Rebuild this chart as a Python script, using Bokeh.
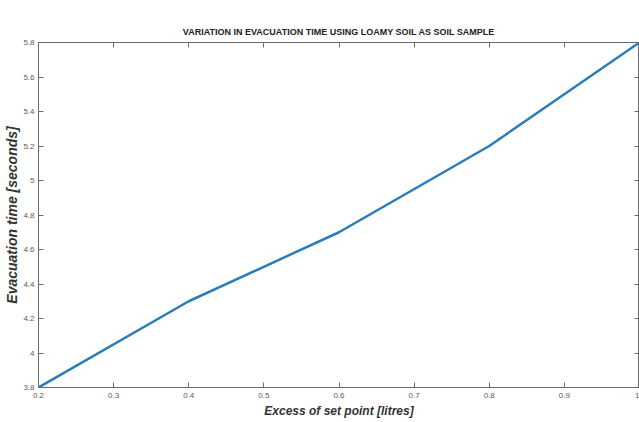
from bokeh.plotting import figure
from bokeh.models import LinearAxis, Range1d, FixedTicker
from bokeh.embed import file_html
from bokeh.resources import INLINE

excess_litres = [0.2, 0.4, 0.6, 0.8, 1.0]
evac_seconds = [3.8, 4.3, 4.7, 5.2, 5.8]
x_ticks = [0.2, 0.3, 0.4, 0.5, 0.6, 0.7, 0.8, 0.9, 1.0]
y_ticks = [3.8, 4.0, 4.2, 4.4, 4.6, 4.8, 5.0, 5.2, 5.4, 5.6, 5.8]
x_tick_labels = {0.2: "0.2", 0.3: "0.3", 0.4: "0.4", 0.5: "0.5", 0.6: "0.6",
                 0.7: "0.7", 0.8: "0.8", 0.9: "0.9", 1.0: "1"}
y_tick_labels = {3.8: "3.8", 4.0: "4", 4.2: "4.2", 4.4: "4.4", 4.6: "4.6", 4.8: "4.8",
                 5.0: "5", 5.2: "5.2", 5.4: "5.4", 5.6: "5.6", 5.8: "5.8"}

AX = "#6b6b6b"
FONT = "Liberation Sans"

p = figure(width=639, height=422, output_backend="svg", toolbar_location=None,
           x_range=Range1d(0.2, 1.0), y_range=Range1d(3.8, 5.8),
           x_axis_location=None, y_axis_location=None,
           min_border_left=38, min_border_right=0, min_border_top=42, min_border_bottom=35)
p.title.text = "VARIATION IN EVACUATION TIME USING LOAMY SOIL AS SOIL SAMPLE"
p.title.text_font = FONT
p.title.text_font_size = "9px"
p.title.text_font_style = "bold"
p.title.text_color = "#222222"
p.title.align = "center"
p.title.standoff = 11
p.xgrid.visible = False
p.ygrid.visible = False
p.outline_line_color = AX
p.background_fill_color = "white"
p.border_fill_color = "white"

def style(ax):
    ax.axis_line_color = AX
    ax.major_tick_line_color = AX
    ax.major_tick_in = 5
    ax.major_tick_out = 0
    ax.minor_tick_line_color = None
    ax.major_label_text_font = FONT
    ax.major_label_text_font_size = "8px"
    ax.major_label_text_color = "#5a5a5a"

xb = LinearAxis(ticker=FixedTicker(ticks=x_ticks), major_label_overrides=x_tick_labels)
style(xb)
xb.major_label_standoff = 5
xb.axis_label = "Excess of set point [litres]"
xb.axis_label_text_font = FONT
xb.axis_label_text_font_size = "12px"
xb.axis_label_text_font_style = "bold italic"
xb.axis_label_text_color = "#333333"
xb.axis_label_standoff = 3
p.add_layout(xb, "below")

yl = LinearAxis(ticker=FixedTicker(ticks=y_ticks), major_label_overrides=y_tick_labels)
style(yl)
yl.major_label_standoff = 4
yl.axis_label = "Evacuation time [seconds]"
yl.axis_label_text_font = FONT
yl.axis_label_text_font_size = "14px"
yl.axis_label_text_font_style = "bold italic"
yl.axis_label_text_color = "#333333"
yl.axis_label_standoff = 0
p.add_layout(yl, "left")

xt = LinearAxis(ticker=FixedTicker(ticks=x_ticks),
                major_label_overrides={t: "" for t in x_ticks})
style(xt)
xt.major_label_text_font_size = "1px"
xt.major_label_standoff = 0
xt.axis_label_standoff = 0
p.add_layout(xt, "above")

yr = LinearAxis(ticker=FixedTicker(ticks=y_ticks),
                major_label_overrides={t: "" for t in y_ticks})
style(yr)
yr.major_label_text_font_size = "1px"
yr.major_label_standoff = 0
yr.axis_label_standoff = 0
p.add_layout(yr, "right")

p.line(excess_litres, evac_seconds, line_color="#2a7db8", line_width=2.5)

open("out.html", "w").write(file_html(p, INLINE))
